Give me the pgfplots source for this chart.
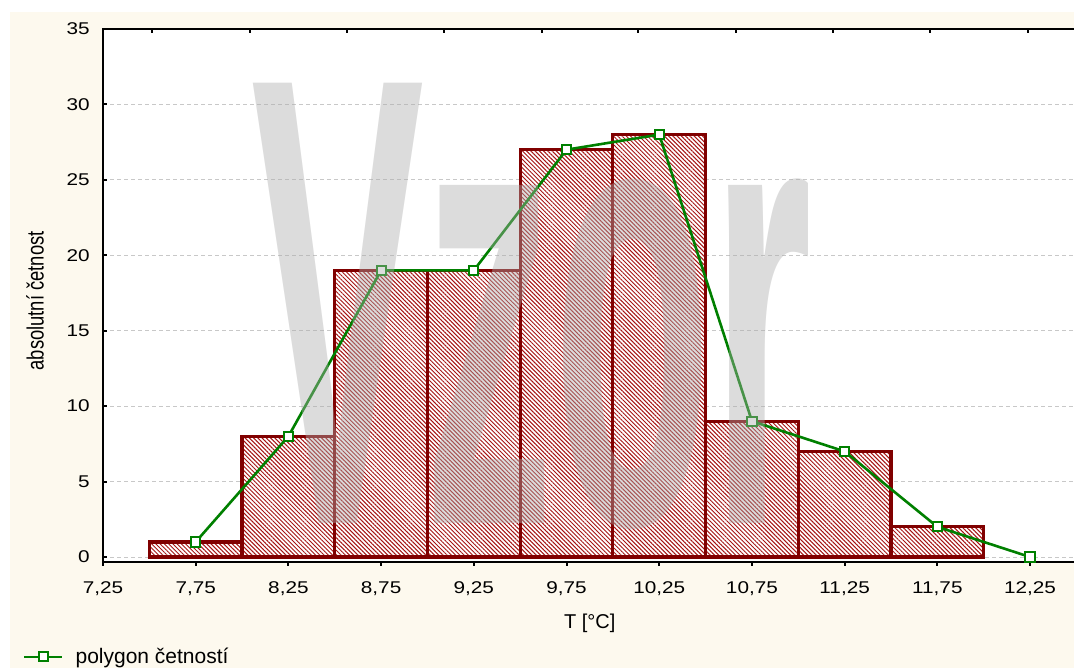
\documentclass[border=0pt]{standalone}
\usepackage{fontspec}
\setmainfont{Liberation Sans}
\newfontfamily\tickfont{Liberation Sans}[FakeStretch=1.22]
\usepackage{pgfplots}
\pgfplotsset{compat=1.18}
\usetikzlibrary{patterns.meta}

\definecolor{cream}{RGB}{253,249,238}
\definecolor{barred}{RGB}{128,0,0}
\definecolor{hatch}{RGB}{165,20,20}
\definecolor{polygreen}{RGB}{0,128,0}
\definecolor{gridgray}{RGB}{200,200,200}
\definecolor{wmgray}{RGB}{172,172,172}

\begin{document}
\begin{tikzpicture}[x=1pt,y=1pt]
\useasboundingbox (0,0) rectangle (537,334);
\fill[cream] (5,0) rectangle (537,328);

% histogram + polygon
\begin{axis}[
  at={(51.5pt,53pt)}, anchor=south west,
  width=486.7pt, height=266.5pt, scale only axis,
  xmin=7.25, xmax=12.5, ymin=-0.331, ymax=35,
  axis background/.style={fill=white},
  axis line style={black, line width=1pt},
  xtick={7.25,7.75,8.25,8.75,9.25,9.75,10.25,10.75,11.25,11.75,12.25},
  ytick={0,5,10,15,20,25,30,35},
  xtick pos=bottom, ytick pos=left,
  tick align=inside,
  major tick length=2pt,
  tick style={black, line width=1pt},
  xtick style={yshift=-2pt},
  ymajorgrids,
  grid style={dash pattern=on 2pt off 1.5pt, gridgray, line width=0.5pt},
  /pgf/number format/assume math mode=true,
  tick label style={font=\tickfont\fontsize{8.5}{10}\selectfont, inner sep=0pt},
  xticklabel style={yshift=-9.5pt, /pgf/number format/.cd, fixed, fixed zerofill, precision=2, use comma},
  yticklabel style={xshift=-6.5pt},
  xlabel={T [°C]},
  xlabel style={at={(axis description cs:0.5,-0.1257)}, anchor=base, font=\fontsize{10}{12}\selectfont, inner sep=0pt},
  ylabel={\scalebox{1}[1.28]{absolutní četnost}},
  ylabel style={at={(axis description cs:-0.0699,0.49)}, anchor=center, font=\fontsize{9.2}{11}\selectfont, inner sep=0pt},
  legend style={at={(axis description cs:-0.0822,-0.178)}, anchor=west, draw=none, fill=none,
    inner sep=0pt, outer sep=0pt, column sep=6pt,
    font=\fontsize{10.5}{12}\selectfont, nodes={inner sep=0pt}},
  legend cell align=left,
  legend image code/.code={\draw[mark repeat=2,mark phase=2,#1] plot coordinates {(0pt,0pt)(9.5pt,0pt)(19pt,0pt)};},
]
\addplot[ybar interval, draw=barred, line width=1.6pt,
  preaction={fill=white},
  pattern={Lines[angle=-45,distance=1.5pt,line width=0.5pt]}, pattern color=hatch,
  forget plot]
coordinates {
(7.5,1) (8.0,8) (8.5,19) (9.0,19) (9.5,27) (10.0,28) (10.5,9) (11.0,7) (11.5,2) (12.0,2)
};

\addplot[polygreen, line width=1.3pt, mark=square*, mark size=2.3pt,
  mark options={fill=white, line width=1pt, solid}]
coordinates {
(7.75,1) (8.25,8) (8.75,19) (9.25,19) (9.75,27) (10.25,28) (10.75,9) (11.25,7) (11.75,2) (12.25,0)
};
\addlegendentry{polygon četností}

\coordinate (wm) at (axis cs:8.048,2.254);
\end{axis}

% watermark, over the plot
\node[anchor=base west, inner sep=0pt, xscale=0.405, text=wmgray, text opacity=0.42,
  font=\bfseries\fontsize{320}{320}\selectfont] at (wm) {Vzor};

% top ticks (own spacing)
\begin{axis}[
  at={(51.5pt,53pt)}, anchor=south west,
  width=486.7pt, height=266.5pt, scale only axis,
  xmin=7.25, xmax=12.5, ymin=-0.331, ymax=35,
  axis x line*=top, hide y axis,
  axis line style={draw=none},
  xtick={7.514,8.042,8.565,9.088,9.615,10.138,10.666,11.188,11.710,12.239},
  xticklabels={},
  tick align=inside, major tick length=2pt,
  tick style={black, line width=1pt},
]
\end{axis}
\end{tikzpicture}
\end{document}
